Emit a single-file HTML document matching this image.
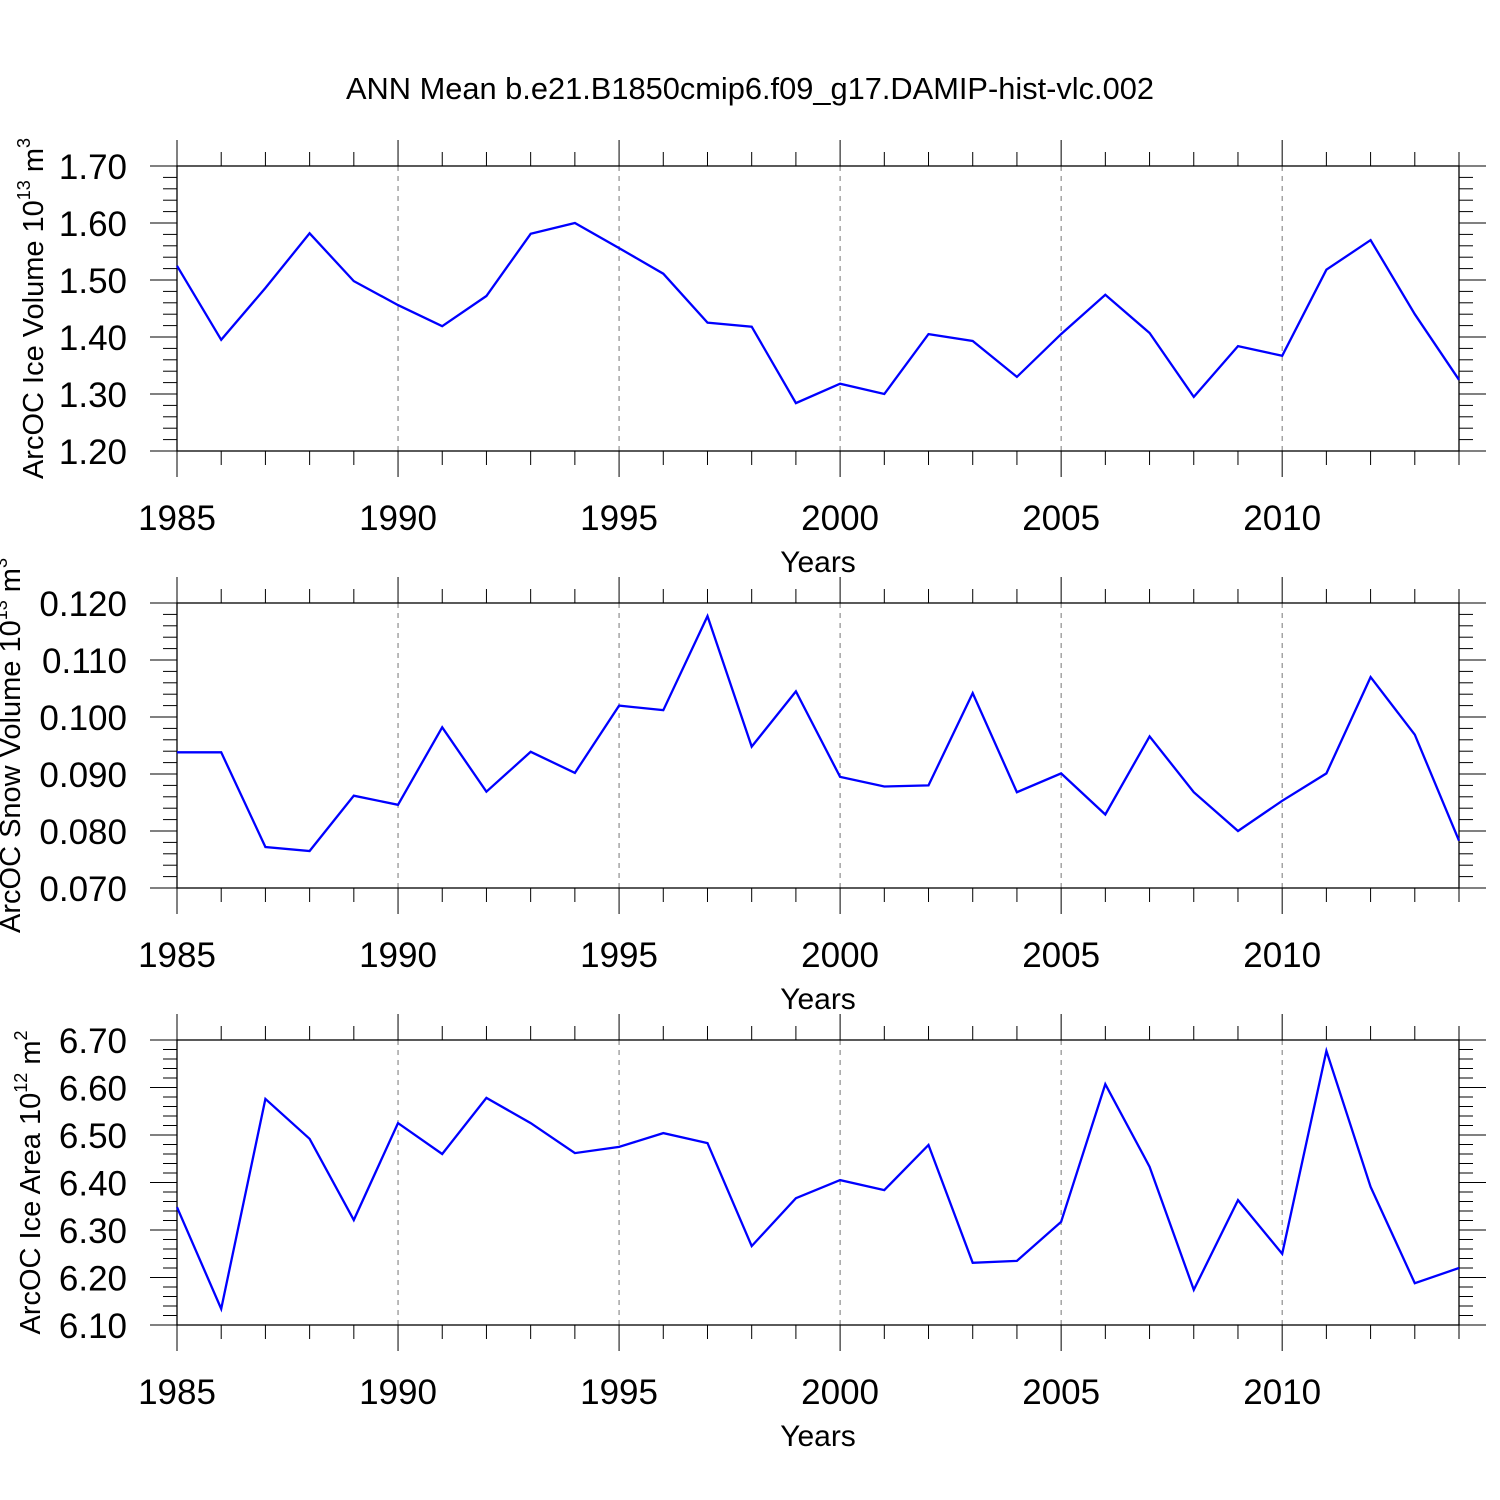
<!DOCTYPE html>
<html><head><meta charset="utf-8"><style>
html,body{margin:0;padding:0;background:#fff;}
svg{display:block;font-family:"Liberation Sans",sans-serif;}
</style></head><body>
<svg id="chart" width="1500" height="1500" viewBox="0 0 1500 1500" xmlns="http://www.w3.org/2000/svg">
<text x="750" y="99" font-size="30.8" text-anchor="middle">ANN Mean b.e21.B1850cmip6.f09_g17.DAMIP-hist-vlc.002</text>
</svg>
<script>
const years = [1985,1986,1987,1988,1989,1990,1991,1992,1993,1994,1995,1996,1997,1998,1999,2000,2001,2002,2003,2004,2005,2006,2007,2008,2009,2010,2011,2012,2013,2014];
const iceVolume = [1.525,1.395,1.486,1.582,1.498,1.456,1.419,1.472,1.581,1.600,1.556,1.511,1.425,1.418,1.284,1.318,1.300,1.405,1.393,1.330,1.405,1.474,1.407,1.295,1.384,1.367,1.518,1.570,1.440,1.325];
const snowVolume = [0.0938,0.0938,0.0772,0.0765,0.0862,0.0846,0.0982,0.0869,0.0939,0.0902,0.1020,0.1012,0.1177,0.0948,0.1045,0.0895,0.0878,0.0880,0.1042,0.0868,0.0901,0.0829,0.0966,0.0868,0.0800,0.0853,0.0901,0.1070,0.0969,0.0783];
const iceArea = [6.348,6.134,6.576,6.492,6.321,6.525,6.460,6.578,6.525,6.462,6.475,6.504,6.483,6.266,6.367,6.405,6.384,6.479,6.231,6.235,6.317,6.607,6.433,6.174,6.363,6.250,6.677,6.391,6.188,6.220];
const xTickLabels = [1985,1990,1995,2000,2005,2010];
const iceVolumeTicks = [1.20,1.30,1.40,1.50,1.60,1.70];
const snowVolumeTicks = [0.070,0.080,0.090,0.100,0.110,0.120];
const iceAreaTicks = [6.10,6.20,6.30,6.40,6.50,6.60,6.70];

const NS="http://www.w3.org/2000/svg";
const svg=document.getElementById('chart');
function mk(tag,attrs,parent){const e=document.createElementNS(NS,tag);for(const k in attrs)e.setAttribute(k,attrs[k]);(parent||svg).appendChild(e);return e;}
const X0=177,X1=1459;
function xs(y){return X0+(y-1985)/(2014-1985)*(X1-X0);}

function panel(name,top,vals,ticks,dec,titleMain,exp,unitExp,titleX){
  const H=285,bot=top+H;
  const lo=ticks[0],hi=ticks[ticks.length-1];
  const ys=v=>bot-(v-lo)/(hi-lo)*H;
  const g=mk('g',{});
  
  
  for(const t of xTickLabels){ if(t===1985)continue;
    const l=mk('line',{x1:xs(t),x2:xs(t),y1:top,y2:bot,stroke:'#777','stroke-width':1,'stroke-dasharray':'5,5'},g);
    
    
  }
  const fr=mk('rect',{x:X0,y:top,width:X1-X0,height:H,fill:'none',stroke:'#000','stroke-width':1.3},g);
  
  
  for(let yr=1985;yr<=2014;yr++){
    const major=(yr%5===0);const len=major?26:14;const x=xs(yr);
    mk('line',{x1:x,x2:x,y1:top-len,y2:top,stroke:'#000','stroke-width':1},g);
    mk('line',{x1:x,x2:x,y1:bot,y2:bot+len,stroke:'#000','stroke-width':1},g);
  }
  for(const t of xTickLabels){
    const tx=mk('text',{x:xs(t),y:bot+79,'font-size':35,'text-anchor':'middle'},g);
    tx.textContent=t;
    
    
  }
  const xt=mk('text',{x:(X0+X1)/2,y:bot+121,'font-size':30,'text-anchor':'middle'},g);
  xt.textContent='Years';
  
  
  const step=(ticks[1]-ticks[0])/5;
  for(let i=0;i<=(ticks.length-1)*5;i++){
    const v=lo+i*step;const y=ys(v);const major=(i%5===0);const len=major?27:14;
    mk('line',{x1:X0-len,x2:X0,y1:y,y2:y,stroke:'#000','stroke-width':1},g);
    mk('line',{x1:X1,x2:X1+len,y1:y,y2:y,stroke:'#000','stroke-width':1},g);
  }
  for(const t of ticks){
    const tx=mk('text',{x:127,y:ys(t)+13,'font-size':35,'text-anchor':'end'},g);
    tx.textContent=t.toFixed(dec);
    
    
  }
  const yt=mk('text',{transform:`translate(${titleX},${top+H/2}) rotate(-90)`,'font-size':29,'text-anchor':'middle'},g);
  yt.innerHTML=titleMain+' 10<tspan dy="-13" font-size="18">'+exp+'</tspan><tspan dy="13"> m</tspan><tspan dy="-13" font-size="18">'+unitExp+'</tspan>';
  
  
  const pts=vals.map((v,i)=>xs(years[i]).toFixed(1)+','+ys(v).toFixed(1)).join(' ');
  const pl=mk('polyline',{points:pts,fill:'none',stroke:'#0000ff','stroke-width':2.3,'stroke-linejoin':'miter'},g);
  
  
}
panel('ice-volume',166,iceVolume,iceVolumeTicks,2,'ArcOC Ice Volume','13','3',43);
panel('snow-volume',603,snowVolume,snowVolumeTicks,3,'ArcOC Snow Volume','13','3',20);
panel('ice-area',1040,iceArea,iceAreaTicks,2,'ArcOC Ice Area','12','2',40);
</script>
</body></html>
